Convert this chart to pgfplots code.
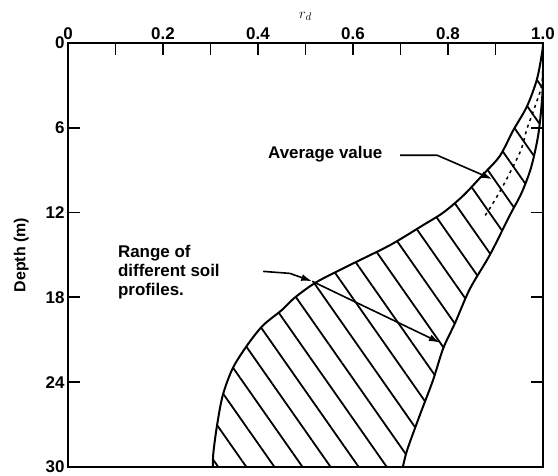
\documentclass[border=0pt]{standalone}
\usepackage{fontspec}
\setmainfont{Liberation Sans}
\usepackage{pgfplots}
\pgfplotsset{compat=1.18}
\usepgfplotslibrary{fillbetween}
\usetikzlibrary{patterns.meta,arrows.meta}

\begin{document}
\begin{tikzpicture}
\begin{axis}[
  scale only axis, width=475bp, height=424bp,
  xmin=0, xmax=1, ymin=0, ymax=30, y dir=reverse,
  axis line style={line width=1.8bp},
  xtick={0,0.2,0.4,0.6,0.8,1.0},
  xticklabels={0,0.2,0.4,0.6,0.8,1.0},
  minor xtick={0.1,0.3,0.5,0.7,0.9},
  xtick pos=right, xticklabel pos=right,
  ytick={0,6,12,18,24,30},
  yticklabels={0,6,12,18,24,30},
  ytick pos=both, yticklabel pos=left,
  tick align=inside,
  major tick length=12bp, minor tick length=12bp,
  every tick/.style={line width=1.8bp, black},
  every minor tick/.style={line width=1.8bp, black},
  /pgf/number format/assume math mode=true,
  ticklabel style={font=\fontsize{17}{17}\selectfont\bfseries},
  xlabel={$r_d$},
  xlabel style={font=\fontsize{15}{15}\selectfont},
  ylabel={Depth (m)},
  ylabel style={font=\fontsize{16}{16}\selectfont\bfseries, yshift=10bp},
  clip=true,
]
% lower bound (left curve)
\addplot[name path=left, black, line width=2bp, smooth, tension=0.5] coordinates {
  (1.0,0) (0.998,0.7) (0.987,2.6) (0.966,4.5) (0.937,6.2) (0.909,8.0)
  (0.874,9.3) (0.832,10.8) (0.790,12.0) (0.747,12.9) (0.678,14.3)
  (0.594,15.7) (0.524,16.9) (0.478,18.0) (0.450,18.9) (0.410,20.0)
  (0.377,21.4) (0.347,23.0) (0.326,24.9) (0.314,27.0) (0.306,29.0) (0.305,30)
};
% upper bound (right curve)
\addplot[name path=right, black, line width=2bp, smooth, tension=0.5] coordinates {
  (1.0,0) (1.0,2.0) (0.998,4.0) (0.990,6.5) (0.975,8.8) (0.955,10.6)
  (0.930,12.2) (0.888,15.0) (0.846,17.4) (0.815,19.8) (0.790,21.6)
  (0.768,23.9) (0.741,26.3) (0.714,28.8) (0.705,30)
};
% hatched range
\addplot[draw=none, pattern={Lines[angle=-55, distance=23bp, line width=1.8bp]}]
  fill between[of=left and right];
% average value (dotted)
\addplot[black, line width=1.5bp, dash pattern=on 3bp off 4bp, smooth] coordinates {
  (1.0,0) (0.998,2.8) (0.983,4.5) (0.966,6.1) (0.952,7.7) (0.916,10.1)
  (0.888,11.7) (0.874,12.4)
};
% annotations
\node[anchor=base west, inner sep=0, font=\fontsize{17}{17}\selectfont\bfseries]
  at (axis cs:0.421,8.15) {Average value};
\draw[line width=1.6bp, -{Latex[length=11bp,width=7bp]}]
  (axis cs:0.699,7.94) -- (axis cs:0.777,7.94) -- (axis cs:0.893,9.63);
\node[anchor=north west, inner sep=0, align=left,
      font=\fontsize{17}{19}\selectfont\bfseries]
  at (axis cs:0.105,14.3) {Range of\\different soil\\profiles.};
\draw[line width=1.6bp, -{Latex[length=11bp,width=7bp]}]
  (axis cs:0.411,16.16) -- (axis cs:0.467,16.3) -- (axis cs:0.514,16.86);
\draw[line width=1.6bp, -{Latex[length=11bp,width=7bp]}]
  (axis cs:0.514,16.86) -- (axis cs:0.783,21.2);
\end{axis}
\pgfresetboundingbox
\path (-68bp,-9bp) rectangle (490bp,467bp);
\end{tikzpicture}
\end{document}
